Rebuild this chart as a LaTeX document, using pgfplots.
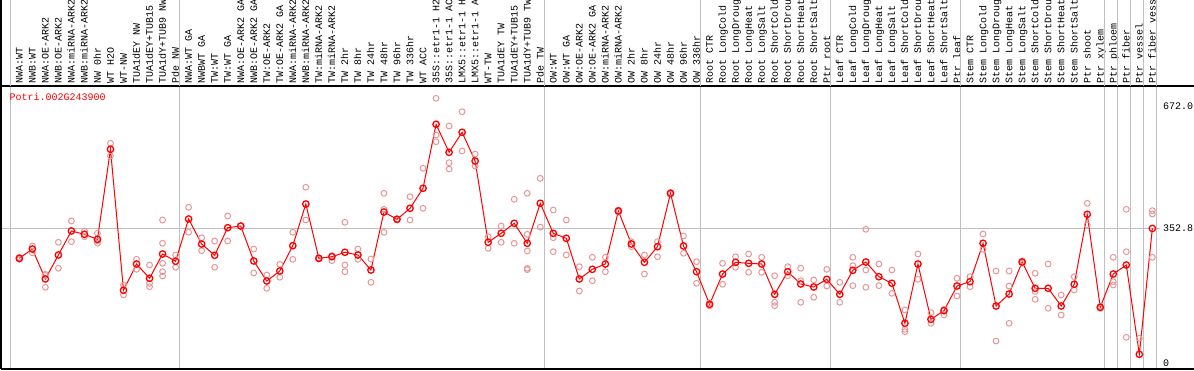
\documentclass[border=0pt]{standalone}
\usepackage{fontspec}
\setmonofont{Liberation Mono}
\usepackage{pgfplots}
\usepackage{pgfplotstable}
\pgfplotsset{compat=1.18}
\definecolor{mainred}{RGB}{255,0,0}
\definecolor{repred}{RGB}{232,150,150}
\definecolor{gridgray}{RGB}{192,192,192}
\pgfplotstableread{
x y
0 274.7
1 299
2 220.6
3 283.4
4 346.2
5 337.5
6 324.4
7 559.9
8 191
9 259.8
10 222.4
11 286
12 266.9
13 377.6
14 312.1
15 282.6
16 354.8
17 359.2
18 267.7
19 215.3
20 241.5
21 307.7
22 416.8
23 274.7
24 278.9
25 290.4
26 283.4
27 244.1
28 395.9
29 376.8
30 405.5
31 457.9
32 625.3
33 552
34 604.4
35 529.3
36 316.6
37 340.1
38 366.3
39 314
40 418.6
41 340.1
42 327
43 220.6
44 245.9
45 259.8
46 398.5
47 312.1
48 264.2
49 305.1
50 444.8
51 306.9
52 239.7
53 154.4
54 233.6
55 264.2
56 261.6
57 259.8
58 180.5
59 239.7
60 207.5
61 199.6
62 219.8
63 180.5
64 243.3
65 265
66 226.6
67 209.3
68 104.7
69 259.8
70 115.1
71 137.7
72 202.3
73 213.5
74 314
75 149.9
76 181.3
77 265
78 196.2
79 196.2
80 149.9
81 206.7
82 389.8
83 146.5
84 233.6
85 257.2
86 23.5
87 352.8
}\means
\pgfplotstableread{
x y
0 272
0 277
1 307
1 289
2 232.8
2 198.8
2 230
3 316.6
3 248.6
4 372.3
4 318.2
5 346.2
5 331.3
6 340.1
6 314
6 320
7 575.6
7 542.4
8 204.9
8 178.7
9 272.1
9 245.9
10 257.2
10 209.3
10 200.4
11 374.9
11 314
11 261.6
11 239.7
11 228.4
12 283.4
12 251.2
13 408.2
13 342.8
14 328.6
14 294.6
15 320
15 251.2
16 385.4
16 320
17 359.2
17 359.2
18 299
18 236.3
19 231
19 196.2
20 259
20 225
21 342.8
21 272.1
22 460.5
22 374.9
23 276
23 273
24 282
24 268.5
25 368.9
25 257.2
25 239.7
26 299
26 272.1
27 272.9
27 211.9
28 444.8
28 402.6
28 342.8
29 378
29 375
30 435.9
30 374.9
31 510.2
31 405.5
32 693.3
32 597.3
32 579.8
33 620.9
33 524.9
33 508.4
34 658.3
34 555.5
35 547.6
35 516.2
36 331.3
36 300.9
37 359.2
37 316.6
38 429.1
38 314
39 444.8
39 337.5
39 293.8
39 248.6
39 245
40 484
40 356.3
41 401.1
41 328.6
41 292
42 374.9
42 283.4
43 252.8
43 189.2
44 277.3
44 216.1
45 277.3
45 239.7
46 401
46 396
47 318
47 305
48 283.4
48 233.6
49 318.2
49 278.9
50 447
50 443
51 333.1
51 287.8
52 265.8
52 209.3
53 158
53 150
54 261.6
54 206.7
55 278.9
55 251.2
56 286
56 238.1
57 277.3
57 238.1
58 229.2
58 159.6
58 150.8
59 252.8
59 229.2
60 248.6
60 216.1
60 159.6
61 217.9
61 172.7
62 245.9
62 202.3
63 211.9
63 159.6
64 277.3
64 255.4
64 203.1
65 350.6
65 244.1
65 198.8
66 259.8
66 203.1
67 244.1
67 183.2
68 139.5
68 89
68 82.8
69 286
69 219.8
70 132.5
70 104.7
71 141
71 126.4
72 222.4
72 176.1
73 226.6
73 200.4
74 338.3
74 298.3
75 241.5
75 58.3
76 241.5
76 202.3
76 104.7
77 268
77 262
78 235.5
78 187.8
78 167.4
79 259.8
79 143.9
80 178.7
80 126.4
81 226.6
81 191.8
82 418.6
82 361.9
83 149
83 144
84 277.3
84 213.5
84 204.9
85 402.9
85 292
85 68
86 65.4
86 -16
87 399.3
87 390.6
87 277.3
}\reps
\begin{document}
\begin{tikzpicture}[x=1pt,y=1pt]
\path[use as bounding box, clip] (0,0) rectangle (1194,370);
\begin{axis}[
  at={(1pt,1pt)}, anchor=south west,
  width=1193pt, height=283pt, scale only axis,
  xmin=-1.406, xmax=90.2, ymin=-14.9, ymax=725.5,
  axis line style={draw=none},
  tick style={draw=none},
  major tick length=0pt,
  xtick={0,...,87},
  xticklabels={NWA:WT,NWB:WT,NWA:OE-ARK2,NWB:OE-ARK2,NWA:miRNA-ARK2,NWB:miRNA-ARK2,NW 0hr,WT H2O,WT-NW,TUA1dEY NW,TUA1dEY+TUB15,TUA1dY+TUB9 NW,Pde NW,
  NWA:WT GA,NWBWT GA,TW:WT,TW:WT GA,NWA:OE-ARK2 GA,NWB:OE-ARK2 GA,TW:OE-ARK2,TW:OE-ARK2 GA,NWA:miRNA-ARK2 GA,NWB:miRNA-ARK2 GA,TW:miRNA-ARK2,TW:miRNA-ARK2 GA,TW 2hr,TW 8hr,TW 24hr,TW 48hr,TW 96hr,TW 336hr,WT ACC,35S::etr1-1 H2O,35S::etr1-1 ACC,LMX5::etr1-1 H2O,LMX5::etr1-1 ACC,WT-TW,TUA1dEY TW,TUA1dEY+TUB15,TUA1dY+TUB9 TW,Pde TW,
  OW:WT,OW:WT GA,OW:OE-ARK2,OW:OE-ARK2 GA,OW:miRNA-ARK2,OW:miRNA-ARK2 GA,OW 2hr,OW 8hr,OW 24hr,OW 48hr,OW 96hr,OW 336hr,
  Root CTR,Root LongCold,Root LongDrought,Root LongHeat,Root LongSalt,Root ShortCold,Root ShortDrought,Root ShortHeat,Root ShortSalt,Ptr root,
  Leaf CTR,Leaf LongCold,Leaf LongDrought,Leaf LongHeat,Leaf LongSalt,Leaf ShortCold,Leaf ShortDrought,Leaf ShortHeat,Leaf ShortSalt,Ptr leaf,
  Stem CTR,Stem LongCold,Stem LongDrought,Stem LongHeat,Stem LongSalt,Stem ShortCold,Stem ShortDrought,Stem ShortHeat,Stem ShortSalt,Ptr shoot,Ptr xylem,
  Ptr phloem,Ptr fiber,Ptr vessel,Ptr fiber vessel},
  xticklabel pos=upper,
  x tick label style={rotate=90, anchor=west, font=\fontsize{10}{12}\selectfont\ttfamily, text height=6.6pt, text depth=0pt, inner xsep=2.5pt, inner ysep=0pt},
  ytick={0,352.8,672},
  yticklabels={0,352.8,672.0},
  yticklabel pos=right,
  y tick label style={anchor=west, inner sep=0pt, xshift=-31pt, font=\fontsize{10}{12}\selectfont\ttfamily},
  clip=true,
  after end axis/.code={
    \draw[black, line width=1.3pt] (rel axis cs:0,0) -- (rel axis cs:1,0);
    \draw[black, line width=1.3pt] (rel axis cs:0,1) -- (rel axis cs:1,1);
    \pgfplotsinvokeforeach{-0.71,12.29,40.29,52.29,62.29,72.29,83.29,84.29,85.29,86.29,87.29}{
      \draw[gridgray, line width=1pt] (axis cs:##1,725.5) -- (axis cs:##1,1200);
    }
    \draw[black, line width=1.3pt] (rel axis cs:0,0) -- (rel axis cs:0,1.4);
  },
]
\pgfplotsinvokeforeach{-0.71,12.29,40.29,52.29,62.29,72.29,83.29,84.29,85.29,86.29,87.29}{
  \draw[gridgray, line width=1pt] (axis cs:#1,-14.9) -- (axis cs:#1,725.5);
}
\draw[gridgray, line width=1pt] (axis cs:-1.406,352.8) -- (axis cs:87.6,352.8);
\node[anchor=west, inner sep=0pt, text=mainred, font=\fontsize{10}{12}\selectfont\ttfamily] at (axis cs:-0.768,697.5) {Potri.002G243900};
\addplot[only marks, mark=o, mark size=2.9pt, repred, mark options={line width=1pt}] table[x=x,y=y] {\reps};
\addplot[mainred, line width=1pt, mark=o, mark size=3.2pt, mark options={line width=1.3pt}] table[x=x,y=y] {\means};
\end{axis}
\end{tikzpicture}
\end{document}
